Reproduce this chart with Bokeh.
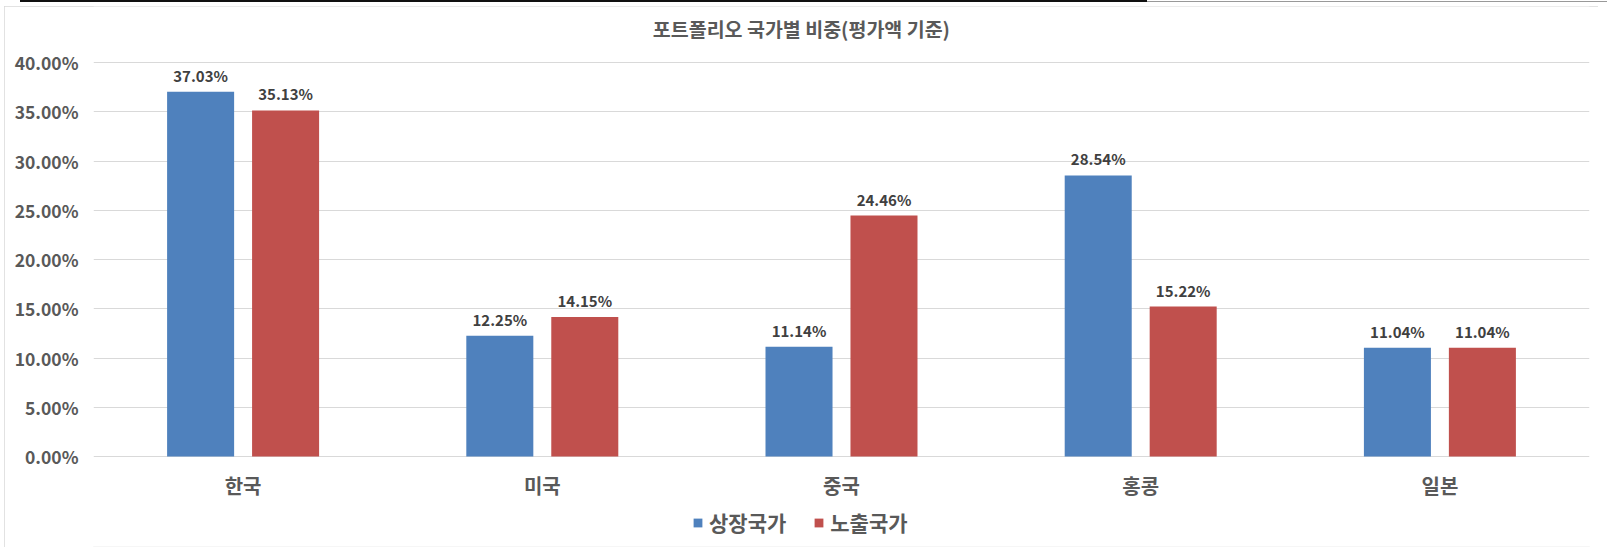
from bokeh.plotting import figure
from bokeh.models import (FactorRange, Range1d, FixedTicker, PrintfTickFormatter,
                          Legend, LegendItem, Label, ColumnDataSource)
from bokeh.transform import dodge
from bokeh.core.properties import value
from bokeh.embed import file_html
from bokeh.resources import INLINE

categories = ["한국", "미국", "중국", "홍콩", "일본"]
listed = [37.03, 12.25, 11.14, 28.54, 11.04]
exposure = [35.13, 14.15, 24.46, 15.22, 11.04]
series_names = ["상장국가", "노출국가"]
y_ticks = [0, 5, 10, 15, 20, 25, 30, 35, 40]
title_text = "포트폴리오 국가별 비중(평가액 기준)"

FONT = "Noto Sans CJK KR"
BLUE = "#4F81BD"
RED = "#C0504D"

# layout geometry (pixels)
W, H = 1594, 541
PLOT_TOP_PX = 56       # distance from figure top to the 40% line
PLOT_H_PX = 394        # height of 0..40%
FRAME_BOTTOM_PAD = 1
px_per_unit = PLOT_H_PX / 40.0
y_top = 40 + PLOT_TOP_PX / px_per_unit
y_bot = -(H - FRAME_BOTTOM_PAD - PLOT_TOP_PX - PLOT_H_PX) / px_per_unit

src = ColumnDataSource(dict(
    cat=categories,
    zero=[0] * len(categories),
    listed=listed,
    exposure=exposure,
    listed_lbl=["%.2f%%" % v for v in listed],
    exposure_lbl=["%.2f%%" % v for v in exposure],
))

p = figure(x_range=FactorRange(*categories), y_range=Range1d(y_bot, y_top),
           width=W, height=H, output_backend="svg", toolbar_location=None,
           x_axis_location=None,
           min_border_left=89, min_border_right=9, min_border_top=0,
           min_border_bottom=FRAME_BOTTOM_PAD)
p.outline_line_color = None
p.background_fill_color = "white"
p.border_fill_color = "white"
p.styles = {
    "outline": "1px solid #d9d9d9", "outline-offset": "-1px",
    "margin-left": "4px", "margin-top": "6px",
    # thin dark rule along the very top of the page, as in the reference screenshot
    "box-shadow": ("0 -4px 0 0 #fff, 9px -4px 0 0 #fff, "
                   "-217.5px -239.5px 0 -233.5px #111, 1143px -5px 0 0 #999"),
}

off = 0.142
w = 0.224
r1 = p.vbar(x=dodge("cat", -off, range=p.x_range), top="listed", width=w, source=src,
            fill_color=BLUE, line_color=None)
r2 = p.vbar(x=dodge("cat", off, range=p.x_range), top="exposure", width=w, source=src,
            fill_color=RED, line_color=None)

common = dict(text_font=value(FONT), text_font_style="bold", text_font_size="15px",
              text_color="#404040", text_align="center", text_baseline="bottom", y_offset=-6)
p.text(x=dodge("cat", -off, range=p.x_range), y="listed", text="listed_lbl", source=src, **common)
p.text(x=dodge("cat", off, range=p.x_range), y="exposure", text="exposure_lbl", source=src, **common)

# category labels under the baseline
p.text(x="cat", y="zero", text="cat", source=src, text_font=value(FONT),
       text_font_style="bold", text_font_size="20px", text_color="#595959",
       text_align="center", text_baseline="middle", y_offset=29)

# y axis
p.yaxis.ticker = FixedTicker(ticks=y_ticks)
p.yaxis.formatter = PrintfTickFormatter(format="%.2f%%")
p.yaxis.axis_line_color = None
p.yaxis.major_tick_line_color = None
p.yaxis.minor_tick_line_color = None
p.yaxis.major_label_standoff = 9
p.yaxis.major_label_text_font = FONT
p.yaxis.major_label_text_font_style = "bold"
p.yaxis.major_label_text_font_size = "17.5px"
p.yaxis.major_label_text_color = "#595959"

p.xgrid.grid_line_color = None
p.ygrid.grid_line_color = "#d9d9d9"
p.ygrid.grid_line_width = 1

# title
title = Label(x=2.366, y=40 + 34 / px_per_unit, text=title_text,
              text_align="center", text_baseline="middle",
              text_font=FONT, text_font_style="bold", text_font_size="19.5px",
              text_color="#595959")
p.add_layout(title)

legend = Legend(items=[LegendItem(label=series_names[0], renderers=[r1]),
                       LegendItem(label=series_names[1], renderers=[r2])],
                location=(599, 9), orientation="horizontal",
                glyph_width=11, glyph_height=11, label_standoff=6, spacing=27,
                padding=0, margin=0, border_line_color=None, background_fill_alpha=0,
                label_text_font=FONT, label_text_font_style="bold",
                label_text_font_size="21px", label_text_color="#595959")
p.add_layout(legend, "center")

open("out.html", "w").write(file_html(p, INLINE))
